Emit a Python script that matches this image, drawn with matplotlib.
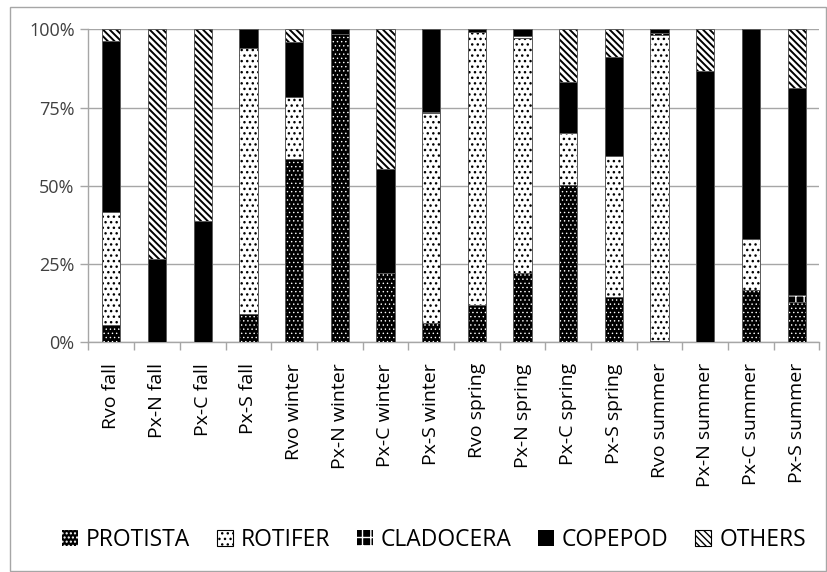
import matplotlib.pyplot as plt
import numpy as np
from matplotlib.patches import Rectangle, Patch

categories = ["Rvo fall", "Px-N fall", "Px-C fall", "Px-S fall",
              "Rvo winter", "Px-N winter", "Px-C winter", "Px-S winter",
              "Rvo spring", "Px-N spring", "Px-C spring", "Px-S spring",
              "Rvo summer", "Px-N summer", "Px-C summer", "Px-S summer"]

protista = [5.5, 0, 0, 9.0, 58.6, 98.5, 22.0, 6.3,
            11.9, 22.2, 50.3, 14.6, 0.3, 0, 16.7, 12.8]
rotifer = [36.1, 0, 0, 85.1, 19.8, 0, 0, 66.9,
           87.3, 75.1, 16.5, 45.0, 97.9, 0, 16.4, 0]
cladocera = [0, 0, 0, 0, 0, 0, 0, 0.5,
             0, 0.5, 0, 0, 0.5, 0, 0, 2.3]
copepod = [54.8, 26.7, 38.8, 5.9, 17.4, 1.5, 33.5, 26.3,
           0.8, 2.2, 16.5, 31.6, 1.3, 86.7, 66.9, 66.2]
others = [3.6, 73.3, 61.2, 0, 4.2, 0, 44.5, 0,
          0, 0, 16.7, 8.8, 0, 13.3, 0, 18.7]

series = ["PROTISTA", "ROTIFER", "CLADOCERA", "COPEPOD", "OTHERS"]
values = [protista, rotifer, cladocera, copepod, others]

# face, hatch colour, hatch, hatch line width
styles = [("black", "white", "....", 0.5),
          ("white", "black", "...", 1.0),
          ("black", "white", "++", 1.0),
          ("black", "black", None, 1.0),
          ("white", "black", "\\\\\\\\\\", 1.4)]

plt.rcParams["font.family"] = "Open Sans"

fig = plt.figure(figsize=(8.28, 5.72), dpi=100)
ax = fig.add_axes([88.5 / 828, 1 - 342.3 / 572, (819.5 - 88.5) / 828, (342.3 - 29.3) / 572])

x = np.arange(len(categories))
width = 0.4
bottom = np.zeros(len(categories))
handles = []
for name, vals, (face, hcol, hatch, hlw) in zip(series, values, styles):
    vals = np.array(vals, dtype=float)
    with plt.rc_context({"hatch.linewidth": hlw}):
        ax.bar(x, vals, width, bottom=bottom, color=face, edgecolor=hcol,
               hatch=hatch, linewidth=0, zorder=3)
        if face == "white":
            handles.append(Patch(facecolor=face, edgecolor=hcol, hatch=hatch, linewidth=0.8))
        else:
            handles.append(Patch(facecolor=face, edgecolor=hcol, hatch=hatch, linewidth=0))
    ax.bar(x, vals, width, bottom=bottom, fill=False, edgecolor="#595959",
           linewidth=0.7, zorder=4)
    bottom += vals

ax.set_xlim(-0.5, len(categories) - 0.5)
ax.set_ylim(0, 100)
ax.set_yticks([0, 25, 50, 75, 100])
ax.set_yticklabels(["0%", "25%", "50%", "75%", "100%"], fontsize=13, color="#404040")
ax.yaxis.grid(True, color="#a6a6a6", linewidth=1, zorder=0)
ax.set_axisbelow(True)

ax.set_xticks(x)
ax.set_xticklabels(categories, rotation=90, va="top", ha="center", fontsize=14)
ax.tick_params(axis="x", which="major", length=0, pad=15)
ax.set_xticks(np.arange(-0.5, len(categories)), minor=True)
ax.tick_params(axis="x", which="minor", length=6, color="#a6a6a6", width=1)
ax.tick_params(axis="y", length=6, color="#a6a6a6", width=1, pad=4)

for side in ["top", "right"]:
    ax.spines[side].set_visible(False)
for side in ["left", "bottom"]:
    ax.spines[side].set_color("#a6a6a6")
    ax.spines[side].set_linewidth(1)

fig.legend(handles, series, loc="center", bbox_to_anchor=(434 / 828, 1 - 540 / 572),
           ncol=5, frameon=False, fontsize=16.5, handlelength=0.7, handleheight=0.7,
           handletextpad=0.35, columnspacing=1.15)

fig.patches.append(Rectangle((10 / 828, 1 / 572), 816 / 828, 564 / 572,
                             transform=fig.transFigure, fill=False,
                             edgecolor="#a6a6a6", linewidth=1))

plt.savefig("out.png", dpi=100)
